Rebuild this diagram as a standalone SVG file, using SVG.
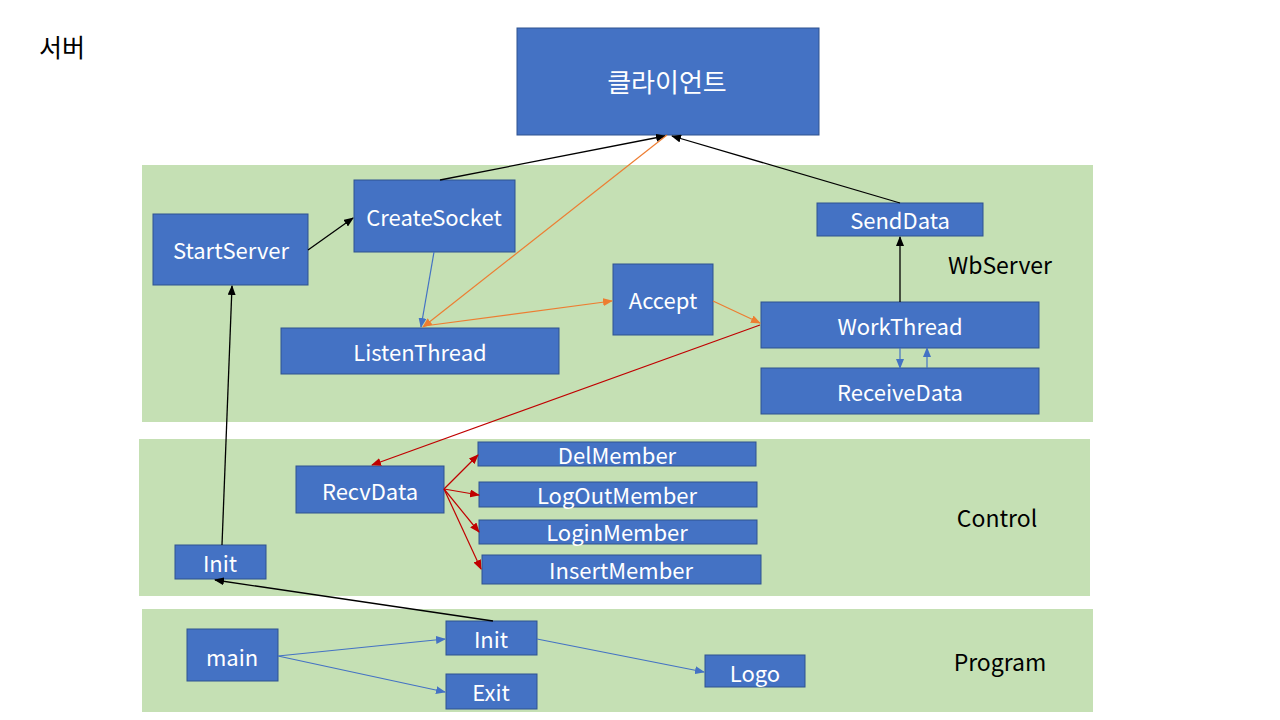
<svg xmlns="http://www.w3.org/2000/svg" width="1280" height="720" viewBox="0 0 1280 720">
<style>
.panel{fill:#C5E0B4}
.box{fill:#4472C4;stroke:#2F528F;stroke-width:1}
.t{font-family:"Noto Sans CJK KR","Liberation Sans",sans-serif;font-size:22px;fill:#fff;text-anchor:middle;dominant-baseline:central}
.lbl{font-family:"Noto Sans CJK KR","Liberation Sans",sans-serif;font-size:23px;fill:#000;text-anchor:middle;dominant-baseline:central}
.k{stroke:#000;stroke-width:1.3;fill:none;marker-end:url(#ak)}
.b{stroke:#4472C4;stroke-width:1.2;fill:none;marker-end:url(#ab)}
.o{stroke:#ED7D31;stroke-width:1.2;fill:none;marker-end:url(#ao)}
.r{stroke:#C00000;stroke-width:1.2;fill:none;marker-end:url(#ar)}
</style>
<defs>
<marker id="ak" markerUnits="userSpaceOnUse" markerWidth="10" markerHeight="8" refX="9" refY="4" orient="auto"><path d="M0,0 L10,4 L0,8 z" fill="#000"/></marker>
<marker id="ab" markerUnits="userSpaceOnUse" markerWidth="10" markerHeight="8" refX="9" refY="4" orient="auto"><path d="M0,0 L10,4 L0,8 z" fill="#4472C4"/></marker>
<marker id="ao" markerUnits="userSpaceOnUse" markerWidth="10" markerHeight="8" refX="9" refY="4" orient="auto"><path d="M0,0 L10,4 L0,8 z" fill="#ED7D31"/></marker>
<marker id="ar" markerUnits="userSpaceOnUse" markerWidth="10" markerHeight="8" refX="9" refY="4" orient="auto"><path d="M0,0 L10,4 L0,8 z" fill="#C00000"/></marker>
</defs>
<rect width="1280" height="720" fill="#fff"/>
<text x="62" y="46" class="lbl" style="font-size:25px">서버</text>
<g id="panels">
<rect class="panel" x="142" y="165" width="951" height="257"/>
<rect class="panel" x="139" y="439" width="951" height="157"/>
<rect class="panel" x="142" y="609" width="951" height="103"/>
<text x="1000" y="264" class="lbl">WbServer</text>
<text x="997" y="517" class="lbl">Control</text>
<text x="1000" y="661" class="lbl">Program</text>
</g>
<g id="client"><rect class="box" x="517" y="28" width="302" height="107"/><text class="t" x="667" y="80" style="font-size:26px">클라이언트</text></g>
<g id="startserver"><rect class="box" x="153" y="214" width="155" height="71"/><text class="t" x="231" y="249">StartServer</text></g>
<g id="createsocket"><rect class="box" x="354" y="180" width="161" height="72"/><text class="t" x="434" y="216">CreateSocket</text></g>
<g id="listenthread"><rect class="box" x="281" y="328" width="278" height="46"/><text class="t" x="420" y="351">ListenThread</text></g>
<g id="accept"><rect class="box" x="613" y="264" width="100" height="71"/><text class="t" x="663" y="299">Accept</text></g>
<g id="senddata"><rect class="box" x="817" y="203" width="166" height="33"/><text class="t" x="900" y="219">SendData</text></g>
<g id="workthread"><rect class="box" x="761" y="302" width="278" height="46"/><text class="t" x="900" y="325">WorkThread</text></g>
<g id="receivedata"><rect class="box" x="761" y="368" width="278" height="46"/><text class="t" x="900" y="391">ReceiveData</text></g>
<g id="recvdata"><rect class="box" x="296" y="466" width="148" height="47"/><text class="t" x="370" y="490">RecvData</text></g>
<g id="delmember"><rect class="box" x="478" y="442" width="278" height="24"/><text class="t" x="617" y="454">DelMember</text></g>
<g id="logoutmember"><rect class="box" x="479" y="482" width="278" height="25"/><text class="t" x="617" y="494">LogOutMember</text></g>
<g id="loginmember"><rect class="box" x="479" y="520" width="278" height="24"/><text class="t" x="617" y="531">LoginMember</text></g>
<g id="insertmember"><rect class="box" x="482" y="555" width="279" height="29"/><text class="t" x="621" y="569">InsertMember</text></g>
<g id="init-control"><rect class="box" x="175" y="545" width="91" height="34"/><text class="t" x="220" y="562">Init</text></g>
<g id="main"><rect class="box" x="187" y="629" width="91" height="52"/><text class="t" x="232" y="656">main</text></g>
<g id="init-program"><rect class="box" x="446" y="621" width="91" height="34"/><text class="t" x="491" y="638">Init</text></g>
<g id="exit"><rect class="box" x="446" y="674" width="91" height="35"/><text class="t" x="491" y="691">Exit</text></g>
<g id="logo"><rect class="box" x="705" y="655" width="100" height="32"/><text class="t" x="755" y="672">Logo</text></g>
<g id="connectors">
<line class="k" x1="222" y1="545" x2="232" y2="286"/>
<line class="k" x1="308" y1="250" x2="353" y2="218"/>
<line class="k" x1="440" y1="180" x2="665" y2="136"/>
<line class="k" x1="900" y1="203" x2="672" y2="136"/>
<line class="k" x1="900" y1="302" x2="900" y2="237"/>
<line class="b" x1="434" y1="252" x2="421" y2="327"/>
<line class="o" x1="667" y1="135" x2="423" y2="327"/>
<line class="o" x1="424" y1="326" x2="612" y2="301"/>
<line class="o" x1="713" y1="301" x2="760" y2="323"/>
<line class="r" x1="760" y1="325" x2="372" y2="465"/>
<line class="b" x1="900" y1="348" x2="900" y2="368"/>
<line class="b" x1="927" y1="368" x2="927" y2="348"/>
<line class="r" x1="444" y1="489" x2="478" y2="455"/>
<line class="r" x1="444" y1="489" x2="479" y2="495"/>
<line class="r" x1="444" y1="489" x2="479" y2="532"/>
<line class="r" x1="444" y1="489" x2="481" y2="569"/>
<line class="k" x1="493" y1="621" x2="215" y2="580"/>
<line class="b" x1="278" y1="656" x2="445" y2="639"/>
<line class="b" x1="278" y1="656" x2="445" y2="692"/>
<line class="b" x1="537" y1="639" x2="704" y2="672"/>
</g>
</svg>
